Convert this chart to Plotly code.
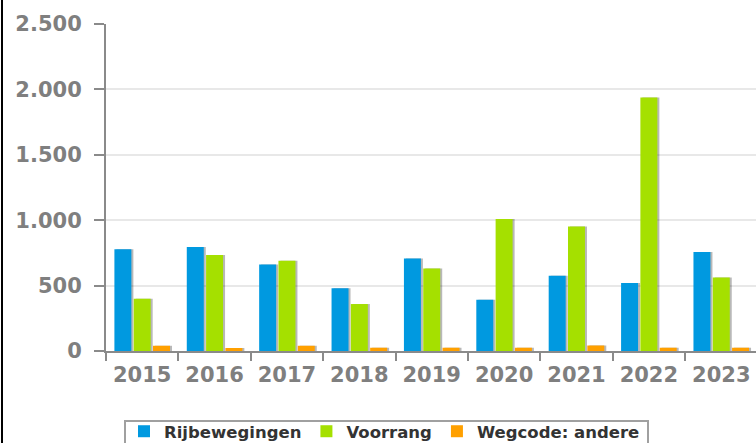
import plotly.graph_objects as go

years = ["2015", "2016", "2017", "2018", "2019", "2020", "2021", "2022", "2023"]
rijbewegingen = [777, 795, 661, 480, 708, 392, 576, 519, 757]
voorrang = [400, 733, 690, 359, 631, 1010, 952, 1938, 561]
wegcode_andere = [40, 23, 40, 25, 25, 25, 42, 25, 25]

series_names = ["Rijbewegingen", "Voorrang", "Wegcode: andere"]
series_colors = ["#0099e0", "#a5e000", "#ffa000"]

W, H = 756, 443
ML, MR, MT, MB = 106, 0, 24, 92
PW, PH = W - ML - MR, H - MT - MB
X_RANGE = [-0.5, 8.48]
SHADOW_PX = 2


def px_x(p):
    return (p - ML) / PW


def px_y(p):
    return (H - MB - p) / PH


fig = go.Figure()
series_values = [rijbewegingen, voorrang, wegcode_andere]

# soft drop shadows (drawn on a hidden, slightly shifted axis underneath)
for name, vals in zip(series_names, series_values):
    fig.add_trace(go.Bar(
        x=years, y=vals, name=name, xaxis="x", yaxis="y",
        marker=dict(color="rgba(0,0,0,0.28)", line=dict(width=0)),
        showlegend=False, hoverinfo="skip",
    ))

# actual bars
for name, vals, col in zip(series_names, series_values, series_colors):
    fig.add_trace(go.Bar(
        x=years, y=vals, name=name, xaxis="x2", yaxis="y",
        marker=dict(color=col, line=dict(width=0)),
        hoverinfo="x+y+name",
    ))

tick_font = dict(family="DejaVu Sans", size=21, color="#7f7f7f", weight="bold")
shift = SHADOW_PX * (X_RANGE[1] - X_RANGE[0]) / PW

fig.update_layout(
    width=W, height=H,
    margin=dict(l=ML, r=MR, t=MT, b=MB, autoexpand=False),
    paper_bgcolor="white", plot_bgcolor="white",
    barmode="group", bargap=0.2, bargroupgap=0.12,
    separators=",.",
    showlegend=True,
    legend=dict(
        orientation="h", x=px_x(124), xanchor="left",
        y=px_y(414), yanchor="top",
        borderwidth=0, bgcolor="rgba(0,0,0,0)",
        font=dict(family="DejaVu Sans", size=16.5, color="#333333", weight="bold"),
        traceorder="normal", itemsizing="constant",
    ),
    xaxis=dict(
        type="category", range=[X_RANGE[0] - shift, X_RANGE[1] - shift],
        visible=False, showgrid=False, zeroline=False,
    ),
    xaxis2=dict(
        type="category", range=X_RANGE, overlaying="x", side="bottom",
        showline=True, linecolor="#8a8a8a", linewidth=2,
        ticks="outside", ticklen=8, tickwidth=2, tickcolor="#8a8a8a",
        tickson="boundaries", showgrid=False,
        tickfont=tick_font, ticklabelstandoff=4,
    ),
    yaxis=dict(
        range=[0, 2500], tickvals=[0, 500, 1000, 1500, 2000, 2500],
        tickformat=",d",
        showline=True, linecolor="#8a8a8a", linewidth=2,
        ticks="outside", ticklen=10, tickwidth=2, tickcolor="#8a8a8a",
        showgrid=True, gridcolor="#e8e8e8", gridwidth=2,
        zeroline=False,
        tickfont=tick_font, ticklabelstandoff=8,
    ),
    shapes=[
        dict(
            type="line", xref="paper", yref="paper",
            x0=px_x(2), x1=px_x(2), y0=px_y(H), y1=px_y(0),
            line=dict(color="#000000", width=2), layer="above",
        ),
        dict(
            type="rect", xref="paper", yref="paper",
            x0=px_x(125), x1=px_x(648), y0=px_y(460), y1=px_y(421),
            line=dict(color="#a0a0a0", width=2), fillcolor="rgba(0,0,0,0)", layer="above",
        ),
    ],
)

fig.write_html(
    "out.html",
    config={"displayModeBar": False},
    post_script="document.body.style.margin='0px';document.body.style.overflow='hidden';",
)
